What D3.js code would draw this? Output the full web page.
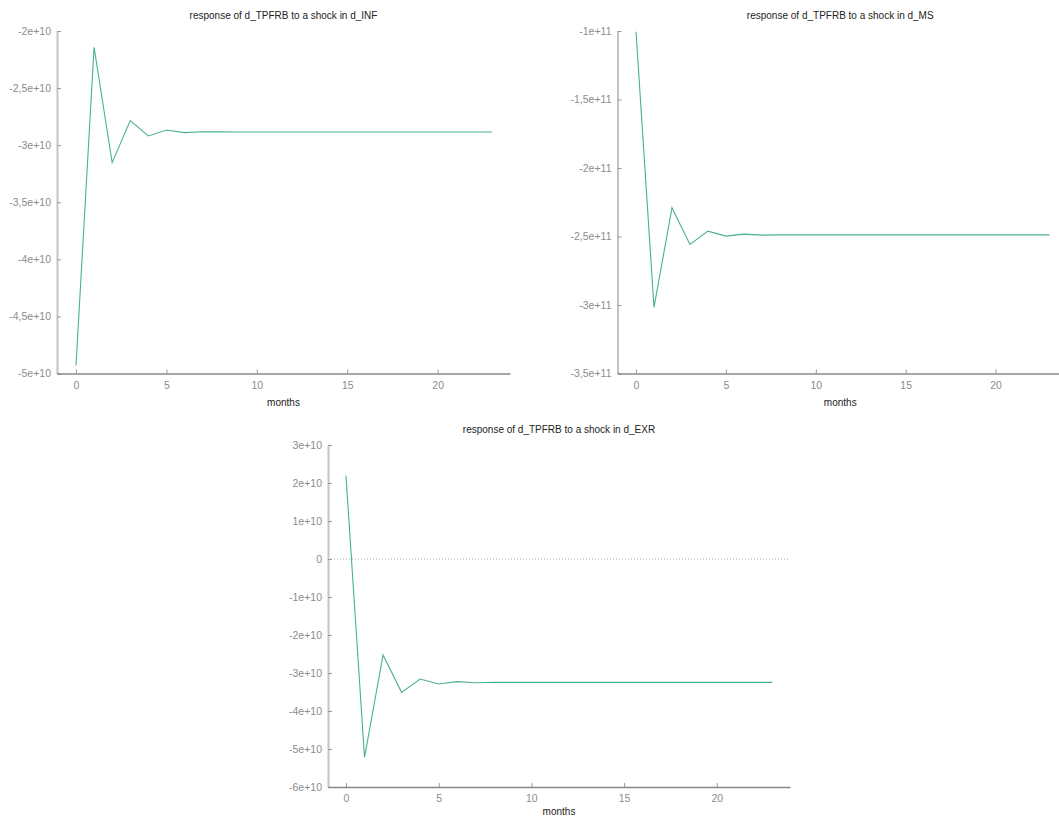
<!DOCTYPE html>
<html>
<head>
<meta charset="utf-8">
<script src="https://cdn.jsdelivr.net/npm/d3@7"></script>
<style>
  html, body { margin: 0; padding: 0; background: #ffffff; }
  svg { display: block; }
</style>
</head>
<body>
<svg id="chart" width="1059" height="818"></svg>
<script>
// ---- data ----
const months = d3.range(0, 24);
const xTicks = [0, 5, 10, 15, 20];

const respINF = [-4.93e10, -2.143e10, -3.153e10, -2.785e10, -2.919e10, -2.867e10, -2.890e10, -2.882e10,
  -2.884e10, -2.885e10, -2.885e10, -2.885e10, -2.885e10, -2.885e10, -2.885e10, -2.885e10,
  -2.885e10, -2.885e10, -2.885e10, -2.885e10, -2.885e10, -2.885e10, -2.885e10, -2.885e10];
const respMS = [-1.005e11, -3.018e11, -2.290e11, -2.558e11, -2.461e11, -2.497e11, -2.483e11, -2.490e11,
  -2.488e11, -2.488e11, -2.488e11, -2.488e11, -2.488e11, -2.488e11, -2.488e11, -2.488e11,
  -2.488e11, -2.488e11, -2.488e11, -2.488e11, -2.488e11, -2.488e11, -2.488e11, -2.488e11];
const respEXR = [2.19e10, -5.22e10, -2.526e10, -3.509e10, -3.158e10, -3.289e10, -3.228e10, -3.255e10,
  -3.245e10, -3.246e10, -3.246e10, -3.246e10, -3.246e10, -3.246e10, -3.246e10, -3.246e10,
  -3.246e10, -3.246e10, -3.246e10, -3.246e10, -3.246e10, -3.246e10, -3.246e10, -3.246e10];

const yTicksINF = [-5e10, -4.5e10, -4e10, -3.5e10, -3e10, -2.5e10, -2e10];
const yTicksMS = [-3.5e11, -3e11, -2.5e11, -2e11, -1.5e11, -1e11];
const yTicksEXR = [-6e10, -5e10, -4e10, -3e10, -2e10, -1e10, 0, 1e10, 2e10, 3e10];

const titles = [
  "response of d_TPFRB to a shock in d_INF",
  "response of d_TPFRB to a shock in d_MS",
  "response of d_TPFRB to a shock in d_EXR"
];
const xLabel = "months";

// ---- layout ----
const panels = [
  { title: titles[0], values: respINF, yTicks: yTicksINF, ydom: [-5e10, -2e10],
    left: 57, right: 510, top: 31, bottom: 373.5, xdom: [-1.05, 24], zero: false },
  { title: titles[1], values: respMS, yTicks: yTicksMS, ydom: [-3.5e11, -1e11],
    left: 617.5, right: 1063, top: 31, bottom: 373.5, xdom: [-1.03, 23.75], zero: false },
  { title: titles[2], values: respEXR, yTicks: yTicksEXR, ydom: [-6e10, 3e10],
    left: 328, right: 790, top: 445, bottom: 787, xdom: [-0.97, 23.95], zero: true }
];

const LINE = "#1b9e77";
const FONT = "'Liberation Sans', Arial, sans-serif";

function fmt(v) {
  if (v === 0) return "0";
  const e = Math.floor(Math.log10(Math.abs(v)) + 1e-9);
  const m = +(v / Math.pow(10, e)).toFixed(3);
  return String(m).replace(".", ",") + "e+" + e;
}

const svg = d3.select("#chart");

panels.forEach(p => {
  const g = svg.append("g");
  const x = d3.scaleLinear().domain(p.xdom).range([p.left, p.right]);
  const y = d3.scaleLinear().domain(p.ydom).range([p.bottom, p.top]);

  // title
  g.append("text")
    .attr("x", (p.left + p.right) / 2)
    .attr("y", p.top - 12.5)
    .attr("text-anchor", "middle")
    .attr("font-family", FONT)
    .attr("font-size", "10px")
    .attr("fill", "#222")
    .text(p.title);

  // zero line
  if (p.zero) {
    g.append("line")
      .attr("x1", p.left).attr("x2", p.right)
      .attr("y1", y(0)).attr("y2", y(0))
      .attr("stroke", "#aaaaaa")
      .attr("stroke-width", 1)
      .attr("stroke-dasharray", "1,2");
  }

  // y axis
  const ya = g.append("g")
    .attr("transform", `translate(${p.left},0)`)
    .call(d3.axisLeft(y).tickValues(p.yTicks).tickFormat(fmt)
      .tickSizeInner(-4).tickSizeOuter(0).tickPadding(6));
  ya.select(".domain").attr("stroke", "#c4c4c4").attr("stroke-width", 2);
  ya.selectAll(".tick line").attr("stroke", "#999").attr("stroke-width", 1);
  ya.selectAll(".tick text").attr("fill", "#8c8c8c")
    .attr("font-family", FONT).attr("font-size", "10.5px");

  // x axis
  const xa = g.append("g")
    .attr("transform", `translate(0,${p.bottom})`)
    .call(d3.axisBottom(x).tickValues(xTicks).tickFormat(d3.format("d"))
      .tickSizeInner(-4).tickSizeOuter(0).tickPadding(8));
  xa.select(".domain").attr("stroke", "#888").attr("stroke-width", 1.5);
  xa.selectAll(".tick line").attr("stroke", "#999").attr("stroke-width", 1);
  xa.selectAll(".tick text").attr("fill", "#8c8c8c")
    .attr("font-family", FONT).attr("font-size", "10.5px");

  // x label
  g.append("text")
    .attr("x", (p.left + p.right) / 2)
    .attr("y", Math.min(p.bottom + 32, 815))
    .attr("text-anchor", "middle")
    .attr("font-family", FONT)
    .attr("font-size", "10px")
    .attr("fill", "#222")
    .text(xLabel);

  // line
  const line = d3.line().x((d, i) => x(months[i])).y(d => y(d));
  g.append("path")
    .datum(p.values)
    .attr("d", line)
    .attr("fill", "none")
    .attr("stroke", LINE)
    .attr("stroke-width", 1.1)
    .attr("stroke-opacity", 0.8);
});
</script>
</body>
</html>
